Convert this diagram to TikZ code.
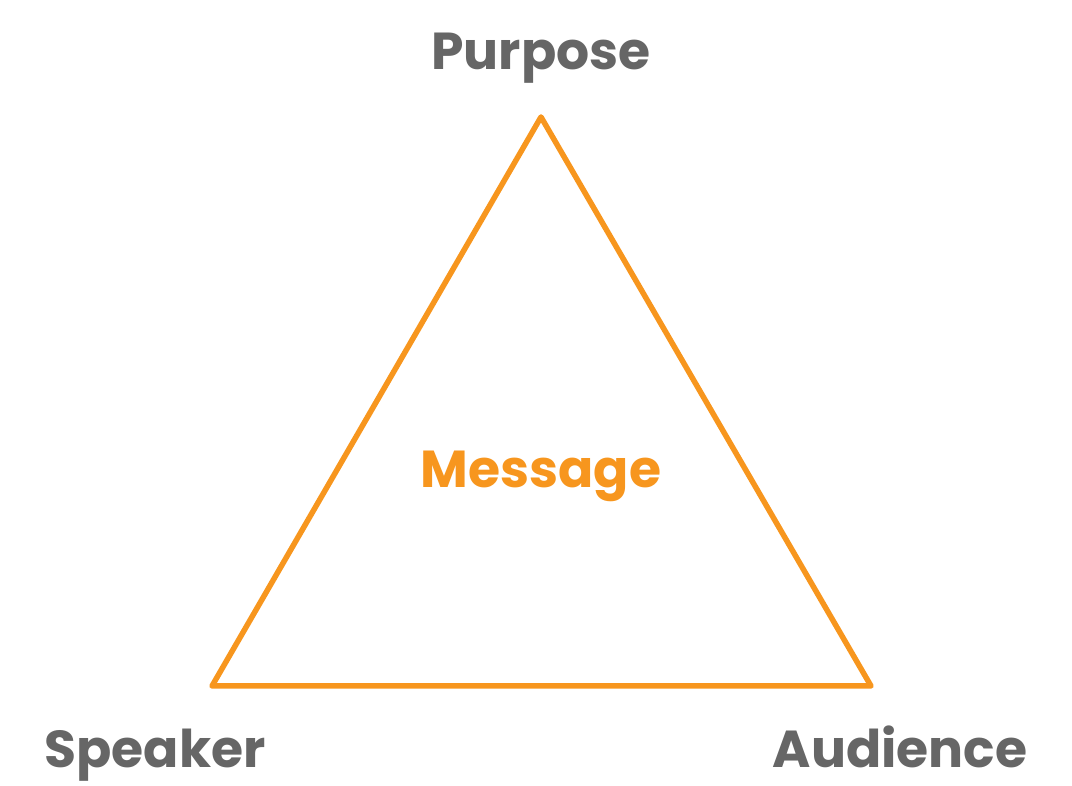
\documentclass[tikz,border=0pt]{standalone}
\usepackage{fontspec}
\setmainfont{Poppins}
\usepackage{tikz}
\usetikzlibrary{positioning}
\definecolor{msgorange}{RGB}{247,150,30}
\definecolor{labelgray}{RGB}{102,102,102}

\begin{document}
\begin{tikzpicture}[
  x=1pt, y=1pt,
  corner/.style={font=\fontsize{52}{60}\selectfont\bfseries, text=labelgray, anchor=base},
  centre/.style={font=\fontsize{52}{60}\selectfont\bfseries, text=msgorange, anchor=base},
  edge/.style={draw=msgorange, line width=5.5pt, line join=round}
]
\useasboundingbox (0,0) rectangle (1072,786);
\coordinate (apex)       at (541,669);
\coordinate (base left)  at (212,100);
\coordinate (base right) at (871,100);
\draw[edge] (apex) -- (base right) -- (base left) -- cycle;

\node[corner] (purpose)  at (541,716) {Purpose};
\node[corner] (speaker)  at (155,18)  {Speaker};
\node[corner] (audience) at (900,18)  {Audience};
\node[centre] (message)  at (541,298) {Message};
\end{tikzpicture}
\end{document}
